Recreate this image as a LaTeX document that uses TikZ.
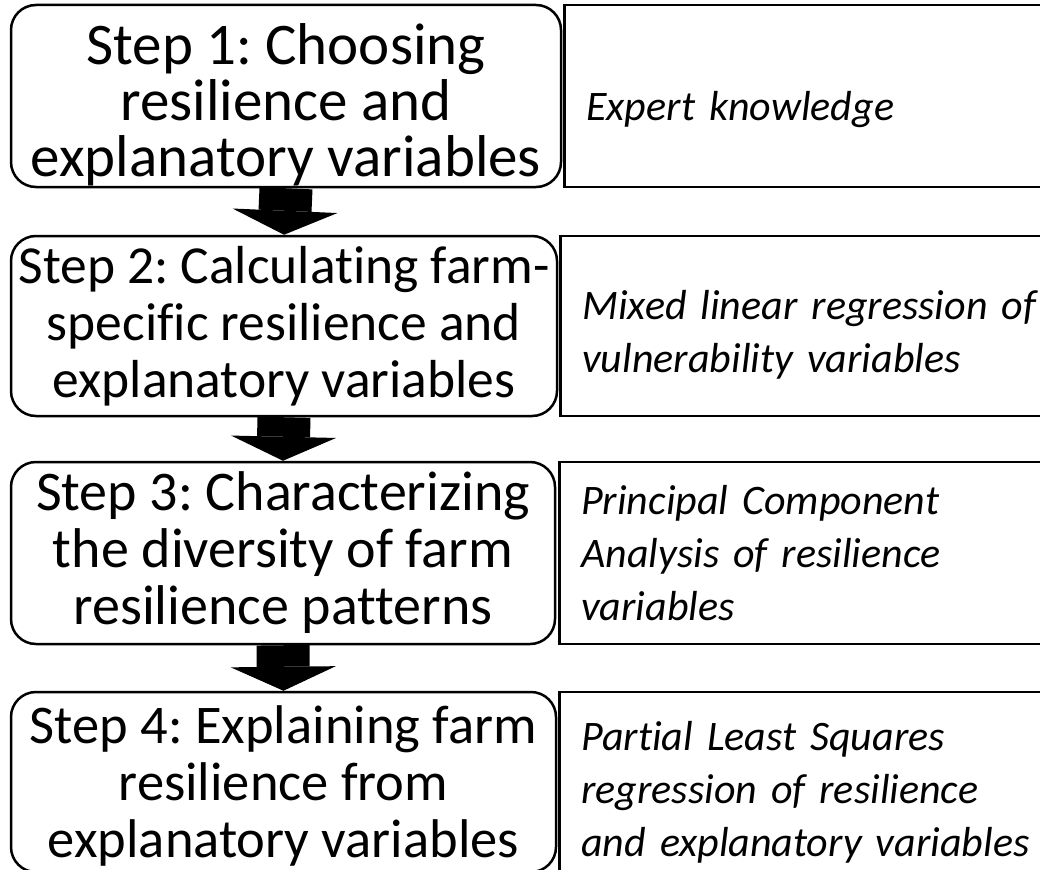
\documentclass[tikz,border=0pt]{standalone}
\usepackage{fontspec}
\setmainfont{Carlito}[Ligatures={NoCommon,NoRequired,NoContextual}]
\newfontfamily\methodfont{Carlito}[Ligatures={NoCommon,NoRequired,NoContextual}, WordSpace=0.8]
\usepackage{tikz}
\usetikzlibrary{arrows.meta}
\frenchspacing

\begin{document}
\begin{tikzpicture}[x=1pt, y=-1pt,
	stepbox/.style={shape=rectangle, draw=black, line width=2.5pt, rounded corners=25pt,
		align=center, inner sep=0pt},
	methodbox/.style={shape=rectangle, draw=black, line width=2.5pt, inner xsep=22pt,
		align=left, text width=515pt, font=\methodfont\fontsize{42}{53}\selectfont\itshape},
	blockarrow/.style={line width=53pt, -{Triangle[length=24pt, width=105pt, line width=0pt]}}]
	
	\useasboundingbox (0,0) rectangle (1040,869);
	
	% steps, left column
	\node[stepbox, minimum width=550pt, minimum height=182pt, font=\fontsize{59}{56}\selectfont] (step1) at (286, 96)
		{\rule{0pt}{59pt}Step 1: Choosing\\resilience and\\explanatory variables};
	\node[stepbox, minimum width=546pt, minimum height=180pt, font=\fontsize{53.5}{57}\selectfont] (step2) at (284, 326)
		{Step 2: Calculating farm-\\specific resilience and\\explanatory variables};
	\node[stepbox, minimum width=544pt, minimum height=182pt, font=\fontsize{56}{57}\selectfont] (step3) at (283, 553)
		{Step 3: Characterizing\\the diversity of farm\\resilience patterns};
	\node[stepbox, minimum width=545pt, minimum height=180pt, font=\fontsize{54.5}{57}\selectfont] (step4) at (283.5, 782)
		{\rule{0pt}{45pt}Step 4: Explaining farm\\resilience from\\explanatory variables};
	
	% methods, right column
	\node[methodbox, minimum height=182pt, anchor=west] (method1) at (563, 96)
		{\rule{0pt}{57pt}Expert knowledge};
	\node[methodbox, minimum height=180pt, anchor=west] (method2) at (559, 326)
		{\rule{0pt}{47pt}Mixed linear regression of\\vulnerability variables};
	\node[methodbox, minimum height=182pt, anchor=west] (method3) at (558, 553)
		{Principal Component\\Analysis of resilience\\variables};
	\node[methodbox, minimum height=180pt, anchor=west] (method4) at (558, 782)
		{\rule{0pt}{49pt}Partial Least Squares\\regression of resilience\\and explanatory variables};
	
	\path[blockarrow] (step1.south) edge (step2.north);
	\path[blockarrow] (step2.south) edge (step3.north);
	\path[blockarrow] (step3.south) edge (step4.north);
	
\end{tikzpicture}
\end{document}
